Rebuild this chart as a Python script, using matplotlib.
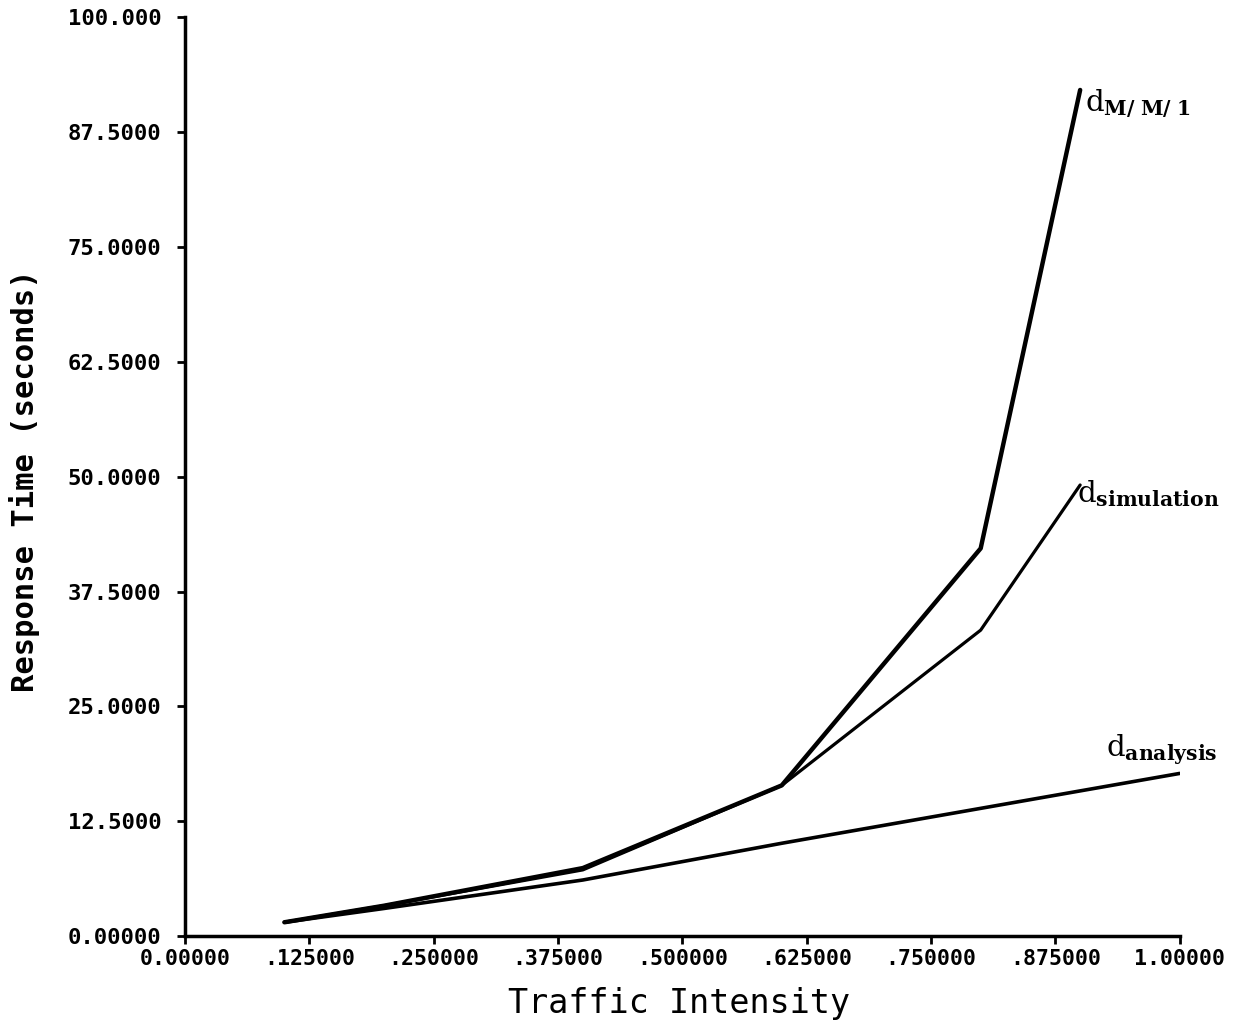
import matplotlib.pyplot as plt
import numpy as np

plt.rcParams['font.family'] = 'DejaVu Sans Mono'
plt.rcParams['mathtext.fontset'] = 'dejavuserif'

# data
rho_mm1 = [0.1, 0.2, 0.4, 0.6, 0.8, 0.9]
d_mm1 = [1.5, 3.3, 7.4, 16.4, 42.2, 92.1]

rho_sim = [0.1, 0.2, 0.4, 0.6, 0.8, 0.9]
d_sim = [1.5, 3.3, 7.2, 16.4, 33.3, 49.1]

rho_ana = [0.1, 0.2, 0.4, 0.6, 0.8, 1.0]
d_ana = [1.5, 3.0, 6.1, 10.1, 13.9, 17.7]

xticks = np.arange(0, 1.0001, 0.125)
xticklabels = ['0.00000', '.125000', '.250000', '.375000', '.500000',
               '.625000', '.750000', '.875000', '1.00000']
yticks = np.arange(0, 100.001, 12.5)
yticklabels = ['0.00000', '12.5000', '25.0000', '37.5000', '50.0000',
               '62.5000', '75.0000', '87.5000', '100.000']

fig = plt.figure(figsize=(12.48, 10.23), dpi=100)
ax = fig.add_axes([0.1482, 0.085, 0.797, 0.898])

ax.plot(rho_mm1, d_mm1, color='black', lw=3.2, solid_capstyle='round')
ax.plot(rho_sim, d_sim, color='black', lw=2.3, solid_capstyle='round')
ax.plot(rho_ana, d_ana, color='black', lw=2.6, solid_capstyle='round')

ax.text(0.905, 90.6, r'd$_{\mathbf{M/\ M/\ 1}}$', fontsize=21, family='DejaVu Serif', va='center')
ax.text(0.897, 48.2, r'd$_{\mathbf{simulation}}$', fontsize=21, family='DejaVu Serif', va='center')
ax.text(0.926, 20.3, r'd$_{\mathbf{analysis}}$', fontsize=21, family='DejaVu Serif', va='center')

ax.set_xlim(0, 1.0)
ax.set_ylim(0, 100)
ax.set_xticks(xticks)
ax.set_xticklabels(xticklabels, fontweight='bold', fontsize=15.5)
ax.set_yticks(yticks)
ax.set_yticklabels(yticklabels, fontweight='bold', fontsize=16)
ax.tick_params(axis='both', direction='out', length=6, width=2)
ax.tick_params(axis='x', pad=3)
ax.tick_params(axis='y', pad=11)

for s in ['top', 'right']:
    ax.spines[s].set_visible(False)
ax.spines['left'].set_linewidth(2.5)
ax.spines['bottom'].set_linewidth(2.5)
ax.spines['left'].set_bounds(0, 100)
ax.spines['bottom'].set_bounds(0, 1.0)

ax.set_xlabel('Traffic Intensity', fontsize=24)
ax.set_ylabel('Response Time (seconds)', fontsize=22, fontweight='bold')
ax.yaxis.set_label_coords(-0.146, 0.496)
ax.xaxis.set_label_coords(0.4965, -0.056)

fig.savefig('out.png', dpi=100)
